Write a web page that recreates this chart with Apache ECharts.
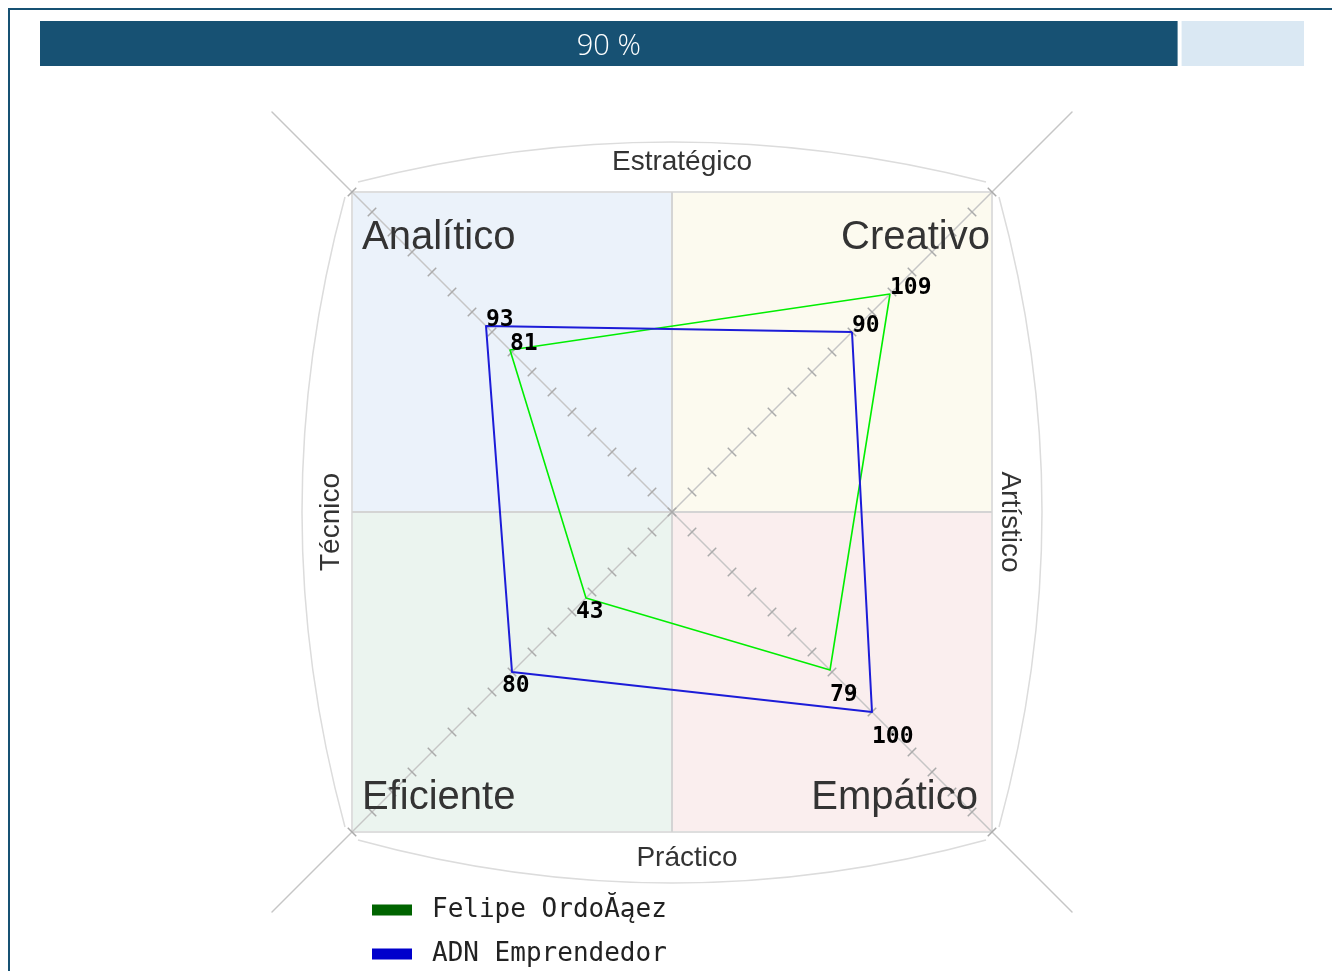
<!DOCTYPE html>
<html><head><meta charset="utf-8">
<script src="https://cdn.jsdelivr.net/npm/echarts@6/dist/echarts.min.js"></script>
<style>
html,body{margin:0;padding:0;background:#fff;}
#frame{position:absolute;left:8px;top:8px;width:1324px;height:963px;border-top:2px solid #175173;border-left:2px solid #175173;box-sizing:border-box;}
#chart{position:absolute;left:0;top:0;width:1332px;height:971px;}
</style></head><body>
<div id="frame"></div>
<div id="chart"></div>
<script>
// ---- data ----
const progressLabel = '90 %';
const progressValue = 90;
const progressMax = 100;

const indicators = ['Creativo', 'Analítico', 'Eficiente', 'Empático'];
const axisMax = 160;
const axisStep = 10;
const seriesNames = ['Felipe OrdoĂąez', 'ADN Emprendedor'];
const felipe = [109, 81, 43, 79];
const adn = [90, 93, 80, 100];
const sideLabels = { top: 'Estratégico', right: 'Artístico', bottom: 'Práctico', left: 'Técnico' };

// ---- layout / style ----
const CX = 672, CY = 512, H = 320;
const R = H * Math.SQRT2;
const lineColors = ['#00ee00', '#1c1cd8'];
const legendColors = ['#006400', '#0000cc'];
const labelOffsets = [[0, -6], [0, -6], [-10, 14], [0, 25]];

const chart = echarts.init(document.getElementById('chart'), null, { renderer: 'canvas' });

const indicatorDefs = indicators.map(n => ({ name: n, min: 0, max: axisMax }));
const baseRadar = {
  center: [CX, CY], startAngle: 45, shape: 'polygon',
  axisName: { show: false }, splitLine: { show: false }, splitArea: { show: false }
};
const tickStyle = { color: '#aaaaaa', width: 1.5 };

const valueSets = [felipe, adn];
const labelItems = [];
valueSets.forEach((vals, s) => {
  vals.forEach((v, i) => {
    labelItems.push({
      name: 'lbl-' + s + '-' + i,
      value: vals.map((x, j) => (j === i ? x : 0)),
      label: { offset: labelOffsets[i] }
    });
  });
});

const sansFont = '"Liberation Sans", Arial, sans-serif';
function txt(text, x, y, size, align, rot) {
  return {
    type: 'text', z: 50, x: x, y: y, rotation: rot || 0,
    style: {
      text: text, fill: '#333', fontSize: size, fontFamily: sansFont,
      align: align, textAlign: align, verticalAlign: 'middle', textVerticalAlign: 'middle'
    }
  };
}

const option = {
  animation: false,
  grid: { left: 40, top: 21, width: 1264, height: 45 },
  xAxis: { type: 'value', min: 0, max: progressMax, show: false },
  yAxis: { type: 'category', data: ['p'], show: false },
  radar: [
    Object.assign({}, baseRadar, {
      radius: R, splitNumber: axisMax / axisStep, indicator: indicatorDefs,
      axisLine: { show: false },
      axisTick: { show: true, length: 6, lineStyle: tickStyle }
    }),
    Object.assign({}, baseRadar, {
      radius: R, splitNumber: axisMax / axisStep, indicator: indicatorDefs,
      axisLine: { show: false },
      axisTick: { show: true, length: -6, lineStyle: tickStyle }
    }),
    Object.assign({}, baseRadar, {
      radius: R * 1.25, indicator: indicators.map(n => ({ name: n, min: 0, max: axisMax * 1.25 })),
      axisLine: { show: true, lineStyle: { color: '#c6c6c6', width: 1.5 } },
      axisTick: { show: false }
    })
  ],
  legend: {
    orient: 'vertical', left: 372, top: 897, padding: 0,
    itemWidth: 40, itemHeight: 11, itemGap: 18, icon: 'rect',
    textStyle: { fontFamily: '"DejaVu Sans Mono", monospace', fontSize: 26, color: '#222', padding: [4, 0, 0, 15] },
    data: seriesNames.map((n, i) => ({ name: n, itemStyle: { color: legendColors[i] } }))
  },
  series: [
    {
      type: 'custom', coordinateSystem: 'cartesian2d',
      encode: { x: [0, 1], y: 3 },
      data: [[0, progressValue, 0, 0], [progressValue, progressMax, 1, 0]],
      renderItem: function (params, api) {
        const s = api.value(0), e = api.value(1), k = api.value(2), c = api.value(3);
        const p0 = api.coord([s, c]), p1 = api.coord([e, c]);
        const h = api.size([0, 1])[1];
        const gap = k === 1 ? 4 : 0;
        const el = {
          type: 'rect',
          shape: { x: p0[0] + gap, y: p0[1] - h / 2, width: p1[0] - p0[0] - gap, height: h },
          style: { fill: k === 0 ? '#175173' : '#dae8f3' }
        };
        if (k === 0) {
          el.textContent = { style: { text: progressLabel, fill: '#fff', fontSize: 29, fontWeight: 300, fontFamily: '"Open Sans", sans-serif' } };
          el.textConfig = { position: 'inside', offset: [0, 3] };
        }
        return el;
      }
    },
    {
      type: 'radar', radarIndex: 0, z: 3, symbol: 'none',
      data: valueSets.map((vals, i) => ({
        name: seriesNames[i], value: vals,
        lineStyle: { color: lineColors[i], width: i === 0 ? 1.6 : 2 },
        itemStyle: { color: lineColors[i] }
      }))
    },
    {
      type: 'radar', radarIndex: 0, z: 4, silent: true,
      symbol: 'circle', symbolSize: 1,
      itemStyle: { color: 'rgba(0,0,0,0)' },
      lineStyle: { width: 0, opacity: 0 },
      label: {
        show: true, position: 'inside', align: 'left', verticalAlign: 'middle',
        color: '#000', fontFamily: '"DejaVu Sans Mono", monospace', fontWeight: 'bold', fontSize: 23,
        formatter: p => (p.value ? String(p.value) : '')
      },
      data: labelItems
    }
  ],
  graphic: [
    { type: 'rect', z: -10, shape: { x: CX - H, y: CY - H, width: H, height: H }, style: { fill: '#ebf2fa' } },
    { type: 'rect', z: -10, shape: { x: CX, y: CY - H, width: H, height: H }, style: { fill: '#fcfaef' } },
    { type: 'rect', z: -10, shape: { x: CX - H, y: CY, width: H, height: H }, style: { fill: '#ebf4ef' } },
    { type: 'rect', z: -10, shape: { x: CX, y: CY, width: H, height: H }, style: { fill: '#faeeee' } },
    { type: 'rect', z: -9, shape: { x: CX - H, y: CY - H, width: 2 * H, height: 2 * H }, style: { fill: 'none', stroke: '#dedede', lineWidth: 2 } },
    { type: 'line', z: -9, shape: { x1: CX, y1: CY - H, x2: CX, y2: CY + H }, style: { stroke: '#d4d4d4', lineWidth: 2 } },
    { type: 'line', z: -9, shape: { x1: CX - H, y1: CY, x2: CX + H, y2: CY }, style: { stroke: '#d4d4d4', lineWidth: 2 } },
    { type: 'bezierCurve', z: -9, shape: { x1: CX - H + 6, y1: CY - H - 10, x2: CX + H - 6, y2: CY - H - 10, cpx1: CX, cpy1: CY - H - 90 }, style: { fill: 'none', stroke: '#dcdcdc', lineWidth: 1.5 } },
    { type: 'bezierCurve', z: -9, shape: { x1: CX - H + 6, y1: CY + H + 8, x2: CX + H - 6, y2: CY + H + 8, cpx1: CX, cpy1: CY + H + 94 }, style: { fill: 'none', stroke: '#dcdcdc', lineWidth: 1.5 } },
    { type: 'bezierCurve', z: -9, shape: { x1: CX - H - 7, y1: CY - H + 5, x2: CX - H - 7, y2: CY + H - 5, cpx1: CX - H - 93, cpy1: CY }, style: { fill: 'none', stroke: '#dcdcdc', lineWidth: 1.5 } },
    { type: 'bezierCurve', z: -9, shape: { x1: CX + H + 7, y1: CY - H + 5, x2: CX + H + 7, y2: CY + H - 5, cpx1: CX + H + 93, cpy1: CY }, style: { fill: 'none', stroke: '#dcdcdc', lineWidth: 1.5 } },
    txt(indicators[1], 362, 238, 40, 'left'),
    txt(indicators[0], 990, 238, 40, 'right'),
    txt(indicators[2], 362, 798, 40, 'left'),
    txt(indicators[3], 978, 798, 40, 'right'),
    txt(sideLabels.top, 682, 162.5, 28, 'center'),
    txt(sideLabels.bottom, 687, 858.5, 28, 'center'),
    txt(sideLabels.left, 331, 522, 28, 'center', Math.PI / 2),
    txt(sideLabels.right, 1010, 522, 28, 'center', -Math.PI / 2)
  ]
};
chart.setOption(option);
</script>
</body></html>
